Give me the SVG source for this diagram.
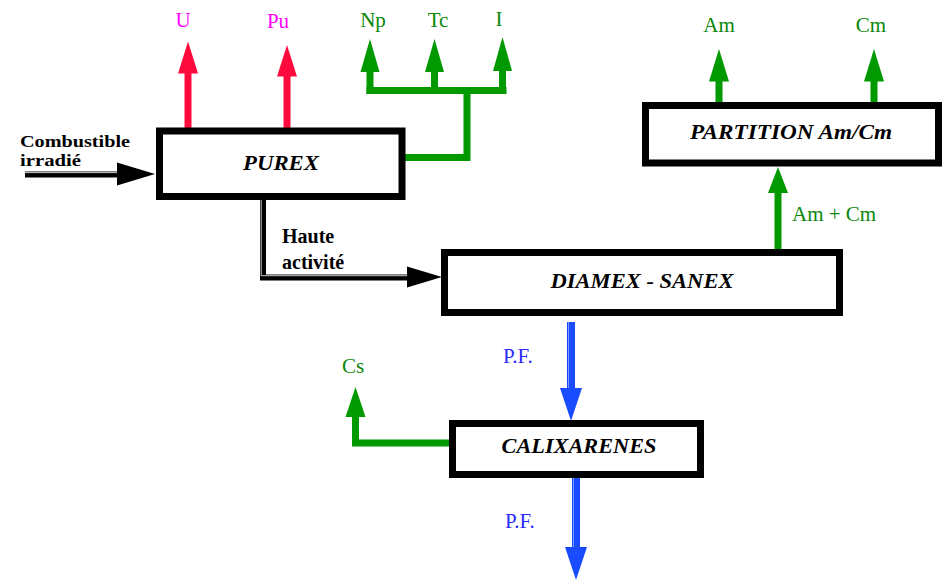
<svg xmlns="http://www.w3.org/2000/svg" width="947" height="580" viewBox="0 0 947 580">
<style>
  text { font-family: "Liberation Serif", "DejaVu Serif", "Times New Roman", serif; }
  .box { fill: #ffffff; stroke: #000000; stroke-width: 7; }
  .btxt { font-style: italic; font-weight: bold; font-size: 22px; fill: #000000; text-anchor: middle; }
  .lbl { font-size: 21px; }
  .lblb { font-size: 20px; font-weight: bold; fill: #000000; }
  .sm { font-size: 16px; }
  .mag { fill: #ff00ff; text-anchor: middle; }
  .grn { fill: #0a870a; }
  .blu { fill: #2a2aff; }
  .gline { fill: none; stroke: #009a00; stroke-width: 7; stroke-linejoin: miter; }
  .ghead { fill: #009a00; }
  .rline { fill: none; stroke: #ff0a3c; stroke-width: 7; }
  .rhead { fill: #ff0a3c; }
  .kline { fill: none; stroke: #000000; stroke-width: 6; stroke-linejoin: miter; }
  .kin { fill: none; stroke: #ffffff; stroke-width: 0.8; }
  .khead { fill: #000000; }
  .bline { fill: none; stroke: #1a4cff; stroke-width: 8; }
  .bin { fill: none; stroke: #7f9bff; stroke-width: 1; }
  .bhead { fill: #1a4cff; }
</style>

<g id="connectors">
  <!-- Combustible irradié input -->
  <path class="kline" d="M25 174.5 H120"/>
  <path class="kin" d="M25 172.6 H119"/>
  <polygon class="khead" points="117,162.5 155,174 117,185.5"/>

  <!-- PUREX -> DIAMEX (Haute activité) -->
  <path class="kline" d="M263 200 V277.5 H410"/>
  <path class="kin" d="M261.2 200 V275.7 H409"/>
  <polygon class="khead" points="407,266.5 442,277 407,287.5"/>

  <!-- U, Pu (red) -->
  <path class="rline" d="M188 128 V70"/>
  <polygon class="rhead" points="178,73.5 188,41.5 198,73.5"/>
  <path class="rline" d="M287 128 V73"/>
  <polygon class="rhead" points="277,76.5 287,45 297,76.5"/>

  <!-- Np, Tc, I (green) -->
  <path class="gline" d="M405 157.5 H467 V90.5"/>
  <path class="gline" d="M366.5 90.5 H506.5"/>
  <path class="gline" d="M370 94 V70"/>
  <polygon class="ghead" points="360.5,72 370,39 379.5,72"/>
  <path class="gline" d="M434.5 90.5 V70"/>
  <polygon class="ghead" points="425,72 434.5,39 444,72"/>
  <path class="gline" d="M502.5 94 V68"/>
  <polygon class="ghead" points="493,71 502.5,37 512,71"/>

  <!-- Am, Cm (green) -->
  <path class="gline" d="M719 102 V79"/>
  <polygon class="ghead" points="709,81.5 719,49 729,81.5"/>
  <path class="gline" d="M874 102 V79"/>
  <polygon class="ghead" points="864,81.5 874,49 884,81.5"/>

  <!-- DIAMEX -> PARTITION (Am + Cm) -->
  <path class="gline" d="M778 249 V191"/>
  <polygon class="ghead" points="768,193 778,167 788,193"/>

  <!-- CALIXARENES -> Cs -->
  <path class="gline" d="M449 443 H355.5 V415"/>
  <polygon class="ghead" points="345.5,417 355.5,387 365.5,417"/>

  <!-- P.F. blue -->
  <path class="bline" d="M571 322 V391"/>
  <path class="bin" d="M568.5 322 V390"/>
  <polygon class="bhead" points="560,388 571,421 582,388"/>
  <path class="bline" d="M576 478 V550"/>
  <path class="bin" d="M573.5 478 V549"/>
  <polygon class="bhead" points="565,547 576,580 587,547"/>
</g>

<g id="purex">
  <rect class="box" x="159.5" y="131" width="242.5" height="65.5"/>
  <text class="btxt" x="281" y="170" textLength="76" lengthAdjust="spacingAndGlyphs">PUREX</text>
</g>

<g id="diamex-sanex">
  <rect class="box" x="444.5" y="252.5" width="395" height="60"/>
  <text class="btxt" x="642" y="288" textLength="183" lengthAdjust="spacingAndGlyphs">DIAMEX - SANEX</text>
</g>

<g id="partition">
  <rect class="box" x="645.5" y="105.5" width="293" height="57.5"/>
  <text class="btxt" x="791" y="139" textLength="202" lengthAdjust="spacingAndGlyphs">PARTITION  Am/Cm</text>
</g>

<g id="calixarenes">
  <rect class="box" x="452.5" y="423.5" width="248" height="51"/>
  <text class="btxt" x="579" y="453" textLength="155" lengthAdjust="spacingAndGlyphs">CALIXARENES</text>
</g>

<g id="labels">
  <text class="lblb sm" x="20" y="147" textLength="110" lengthAdjust="spacingAndGlyphs">Combustible</text>
  <text class="lblb sm" x="20" y="166" textLength="61" lengthAdjust="spacingAndGlyphs">irradié</text>
  <text class="lblb" x="282" y="243">Haute</text>
  <text class="lblb" x="282" y="269">activité</text>

  <text class="lbl mag" x="183" y="27">U</text>
  <text class="lbl mag" x="278" y="28">Pu</text>

  <text class="lbl grn" x="373" y="27" text-anchor="middle">Np</text>
  <text class="lbl grn" x="438" y="27" text-anchor="middle">Tc</text>
  <text class="lbl grn" x="499" y="26" text-anchor="middle">I</text>
  <text class="lbl grn" x="719" y="32" text-anchor="middle">Am</text>
  <text class="lbl grn" x="871" y="32" text-anchor="middle">Cm</text>
  <text class="lbl grn" x="792" y="221">Am + Cm</text>
  <text class="lbl grn" x="353" y="373" text-anchor="middle">Cs</text>

  <text class="lbl blu" x="503" y="363">P.F.</text>
  <text class="lbl blu" x="505" y="528">P.F.</text>
</g>
</svg>
